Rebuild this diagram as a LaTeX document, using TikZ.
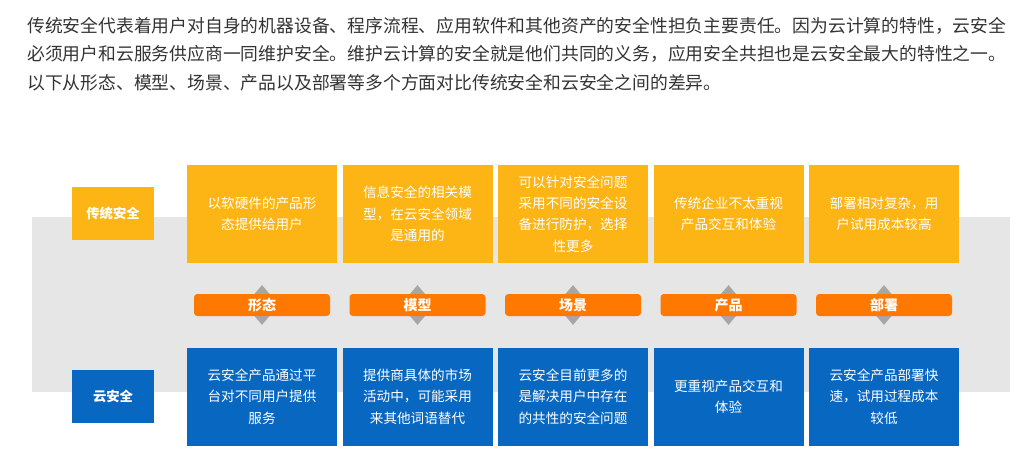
\documentclass[tikz,border=0pt]{standalone}
\usepackage{fontspec}
\setmainfont{Noto Sans CJK SC}
\usetikzlibrary{shapes.geometric}
\definecolor{oldfill}{HTML}{FDB415}
\definecolor{cloudfill}{HTML}{0867C1}
\definecolor{tagfill}{HTML}{FF7800}
\definecolor{bandfill}{HTML}{E6E6E6}
\definecolor{pivotfill}{HTML}{A6A6A6}
\definecolor{bodytext}{HTML}{333333}

\begin{document}
\begin{tikzpicture}[x=0.75pt,y=-0.75pt,
  cell/.style={inner sep=0pt,minimum width=112.5pt,minimum height=73.5pt,text=white,align=center,font=\fontsize{10.2}{16}\selectfont},
  oldcell/.style={cell,fill=oldfill},
  cloudcell/.style={cell,fill=cloudfill},
  rowlabel/.style={inner sep=0pt,minimum width=61.5pt,minimum height=40pt,text=white,font=\fontsize{10}{12}\selectfont\bfseries},
  aspect/.style={fill=tagfill,rounded corners=2.5pt,inner sep=0pt,minimum width=102pt,minimum height=16.5pt,text=white,font=\fontsize{10.5}{12}\selectfont\bfseries},
  pivot/.style={diamond,fill=pivotfill,inner sep=0pt,minimum width=25.5pt,minimum height=30pt}]
\useasboundingbox (0,0) rectangle (1024,453);
% intro text
\node[anchor=west,align=left,inner sep=0pt,text=bodytext,font=\fontsize{13.35}{21.5}\selectfont] (intro) at (27,54)
  {传统安全代表着用户对自身的机器设备、程序流程、应用软件和其他资产的安全性担负主要责任。因为云计算的特性，云安全\\
   必须用户和云服务供应商一同维护安全。维护云计算的安全就是他们共同的义务，应用安全共担也是云安全最大的特性之一。\\
   以下从形态、模型、场景、产品以及部署等多个方面对比传统安全和云安全之间的差异。};
% grey band
\fill[bandfill] (32,217) rectangle (1010,392);
% row labels
\node[rowlabel,fill=oldfill] (old) at (113,213.5) {传统安全};
\node[rowlabel,fill=cloudfill] (cloud) at (113,396.5) {云安全};
% traditional security
\node[oldcell] (t1) at (262,214) {以软硬件的产品形\\态提供给用户};
\node[oldcell] (t2) at (417.5,214) {信息安全的相关模\\型，在云安全领域\\是通用的};
\node[oldcell] (t3) at (573,214) {可以针对安全问题\\采用不同的安全设\\备进行防护，选择\\性更多};
\node[oldcell] (t4) at (728.5,214) {传统企业不太重视\\产品交互和体验};
\node[oldcell] (t5) at (884,214) {部署相对复杂，用\\户试用成本较高};
% cloud security
\node[cloudcell] (c1) at (262,396.5) {云安全产品通过平\\台对不同用户提供\\服务};
\node[cloudcell] (c2) at (417.5,396.5) {提供商具体的市场\\活动中，可能采用\\来其他词语替代};
\node[cloudcell] (c3) at (573,396.5) {云安全目前更多的\\是解决用户中存在\\的共性的安全问题};
\node[cloudcell] (c4) at (728.5,396.5) {更重视产品交互和\\体验};
\node[cloudcell] (c5) at (884,396.5) {云安全产品部署快\\速，试用过程成本\\较低};
% aspects
\node[pivot] (d1) at (262,305) {};
\node[pivot] (d2) at (417.5,305) {};
\node[pivot] (d3) at (573,305) {};
\node[pivot] (d4) at (728.5,305) {};
\node[pivot] (d5) at (884,305) {};
\node[aspect] (a1) at (d1) {形态};
\node[aspect] (a2) at (d2) {模型};
\node[aspect] (a3) at (d3) {场景};
\node[aspect] (a4) at (d4) {产品};
\node[aspect] (a5) at (d5) {部署};
\end{tikzpicture}
\end{document}
